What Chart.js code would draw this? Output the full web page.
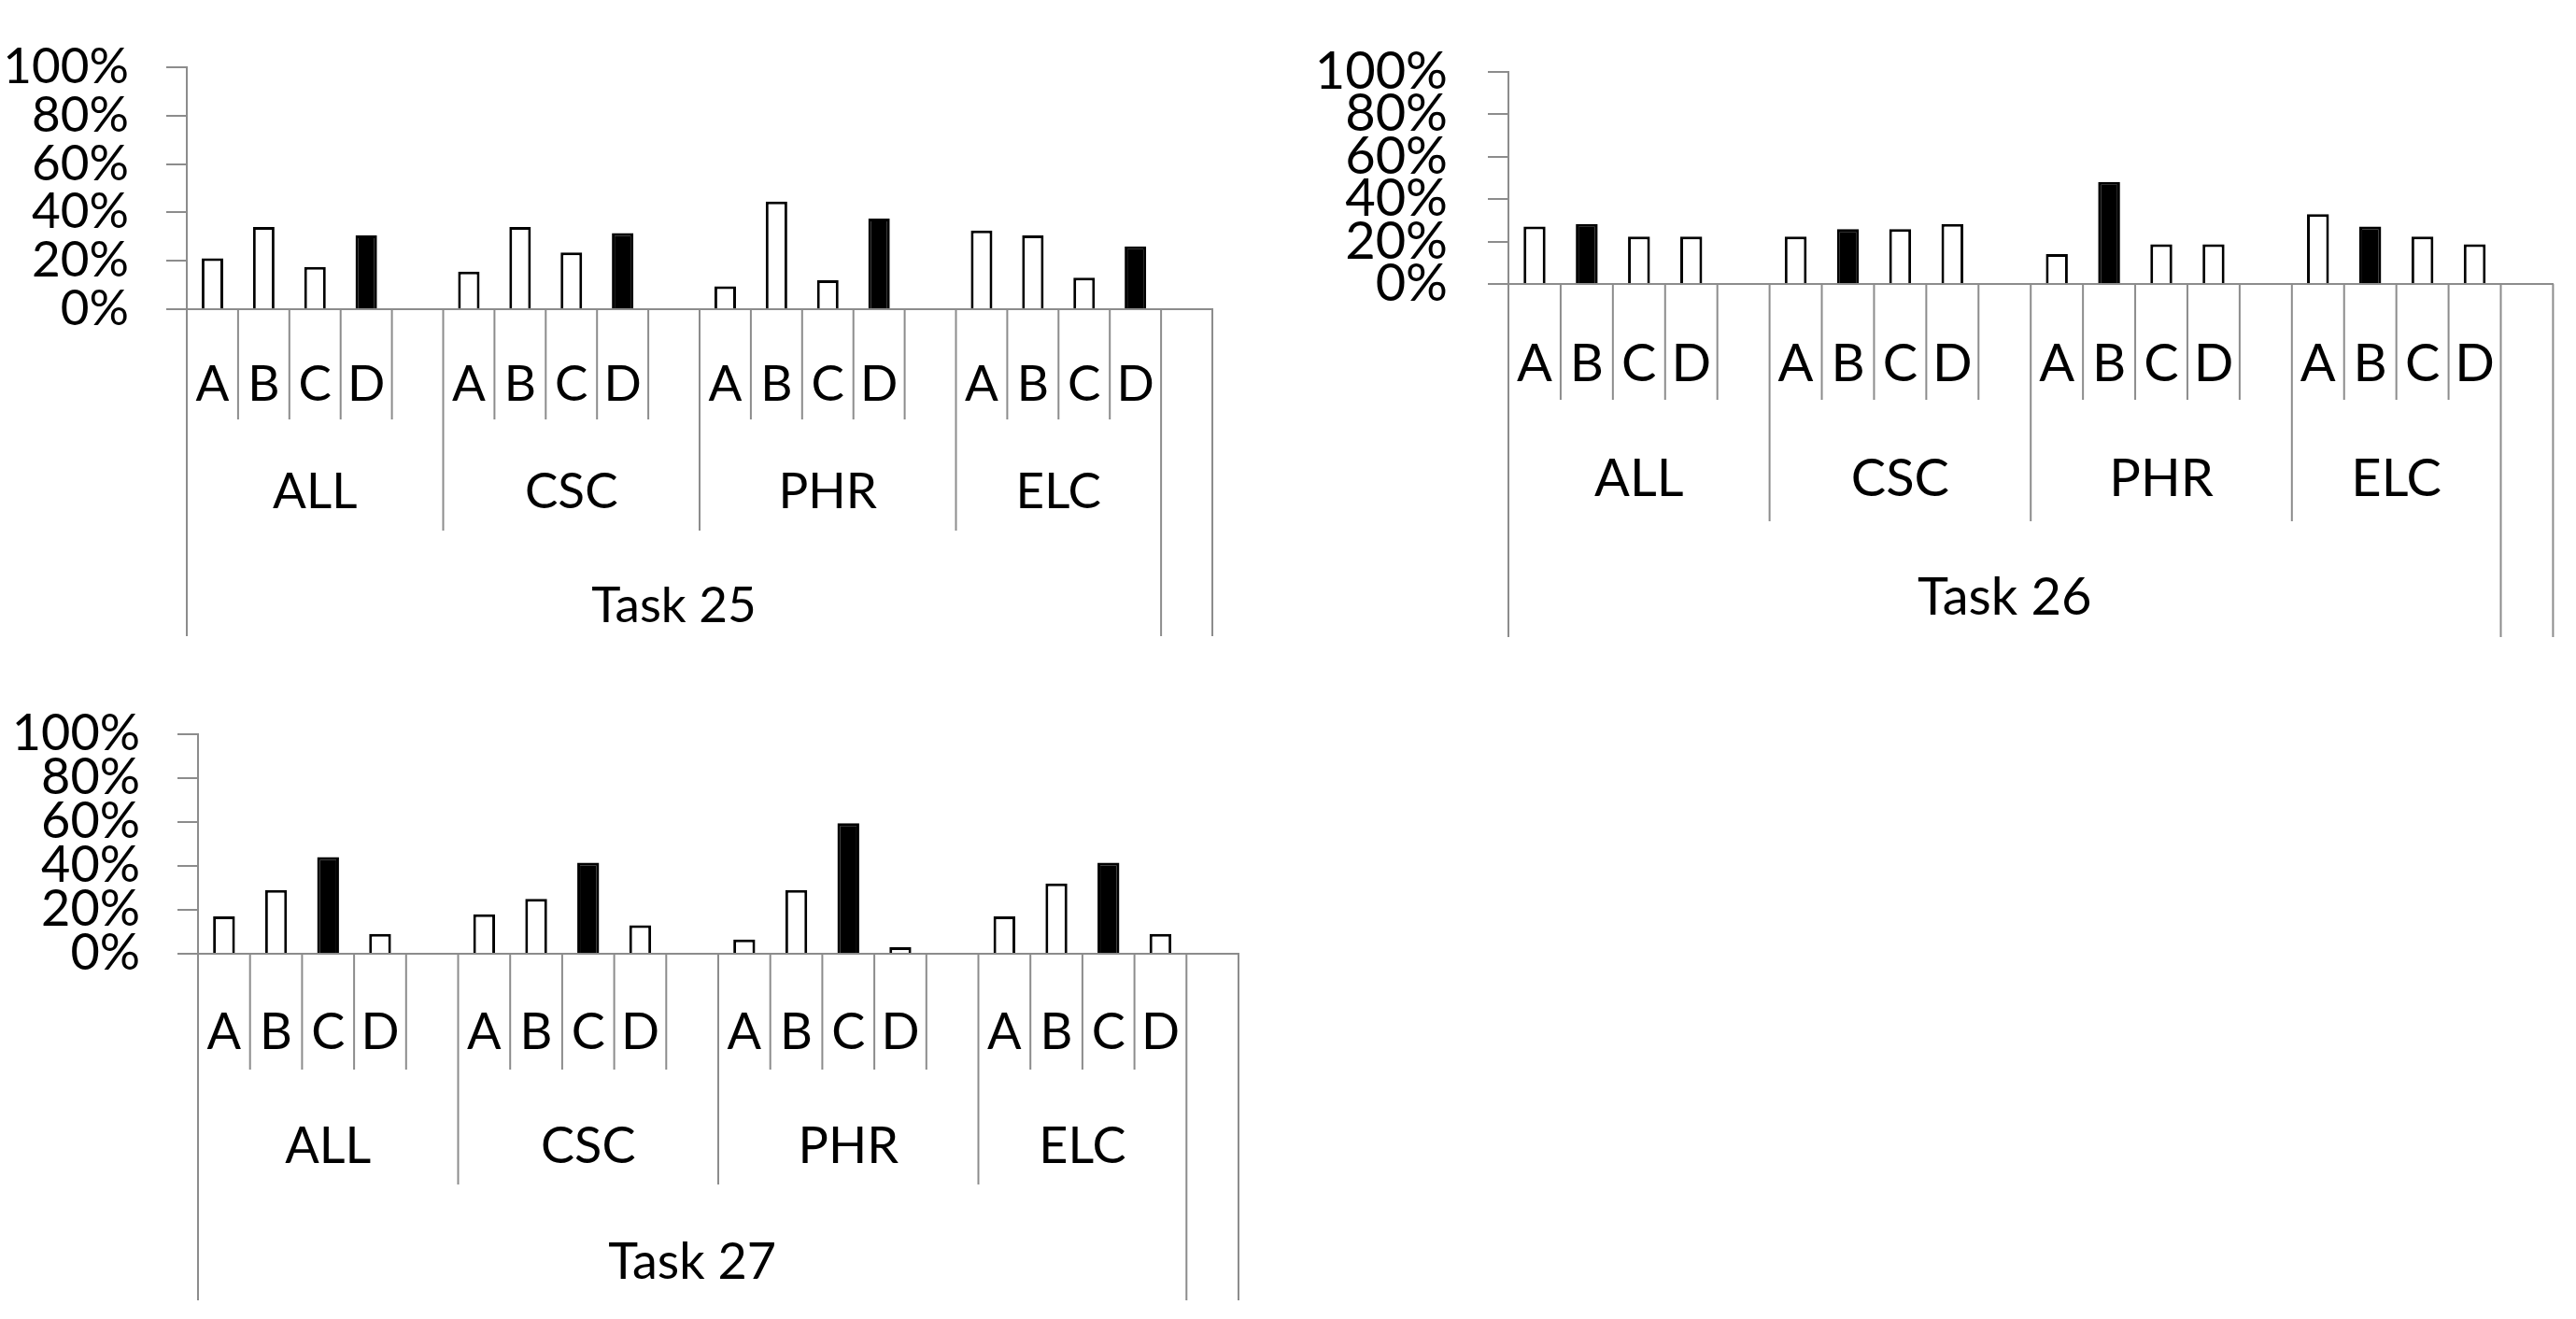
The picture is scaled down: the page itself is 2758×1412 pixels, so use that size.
<!DOCTYPE html>
<html>
<head>
<meta charset="utf-8">
<script src="https://cdn.jsdelivr.net/npm/chart.js@4.4.0/dist/chart.umd.min.js"></script>
<style>
  body { margin: 0; background: #fff; width: 2758px; height: 1412px; position: relative; overflow: hidden; }
  canvas { position: absolute; }
</style>
</head>
<body>
<canvas id="c25" width="1379" height="706" style="left:0;top:0"></canvas>
<canvas id="c26" width="1379" height="706" style="left:1379px;top:0"></canvas>
<canvas id="c27" width="1379" height="706" style="left:0;top:706px"></canvas>
<script>
// answer options and respondent groups
const answers = ['A', 'B', 'C', 'D'];
const groups = ['ALL', 'CSC', 'PHR', 'ELC'];
const yTicks = [0, 20, 40, 60, 80, 100];

// % of respondents per answer, group by group (ALL, CSC, PHR, ELC)
const task25 = [21, 34, 17.5, 30.5,  15.5, 34, 23.5, 31.5,  9.5, 44.5, 12, 37.5,  32.5, 30.5, 13, 26];
const task26 = [27, 28.3, 22.3, 22.3,  22.3, 25.8, 25.8, 28.3,  14.1, 48, 18.7, 18.7,  32.9, 27, 22.3, 18.7];
const task27 = [17, 29, 44, 9,  18, 25, 41.5, 13,  6.5, 29, 59.5, 3,  17, 32, 41.5, 9];

// the correct answer is drawn black
const correct25 = 'D';
const correct26 = 'B';
const correct27 = 'C';

const axisGrey = '#8c8c8c';
const fontFamily = 'Lato, "Open Sans", sans-serif';

// excel style layout: a blank slot after each group, one more at the end
const categories = [];
const groupEdges = [];
groups.forEach((g, k) => {
  groupEdges.push(categories.length);
  answers.forEach(a => categories.push(a));
  if (k < groups.length - 1) categories.push('');
});
const taskEnd = categories.length;
groupEdges.push(taskEnd);
categories.push('');

function buildData(values) {
  const out = [];
  groups.forEach((g, k) => {
    answers.forEach((a, j) => out.push(values[k * answers.length + j]));
    if (k < groups.length - 1) out.push(null);
  });
  out.push(null);
  return out;
}

const multiAxis = {
  id: 'multiAxis',
  afterDraw(chart, args, o) {
    const ctx = chart.ctx;
    const x = chart.scales.x;
    const y0 = x.top;
    const step = x.getPixelForValue(1) - x.getPixelForValue(0);
    const edge = i => x.getPixelForValue(0) - step / 2 + i * step;
    ctx.save();
    ctx.strokeStyle = axisGrey;
    ctx.lineWidth = 2;
    for (let i = 0; i <= categories.length; i++) {
      let len = o.tickLen;
      if (groupEdges.includes(i)) len = o.groupLen;
      if (i === 0 || i >= taskEnd) len = o.taskLen;
      ctx.beginPath();
      ctx.moveTo(edge(i), y0);
      ctx.lineTo(edge(i), y0 + len);
      ctx.stroke();
    }
    ctx.fillStyle = '#000';
    ctx.font = o.fontSize + 'px ' + fontFamily;
    ctx.textAlign = 'center';
    ctx.textBaseline = 'middle';
    groups.forEach((g, k) => {
      ctx.fillText(g, (edge(groupEdges[k]) + edge(groupEdges[k + 1])) / 2, y0 + o.groupY);
    });
    ctx.fillText(o.task, (edge(0) + edge(taskEnd)) / 2, y0 + o.taskY);
    ctx.restore();
  }
};

function makeChart(id, values, right, task, L) {
  const correctIdx = answers.indexOf(right);
  const colors = categories.map(c => answers.indexOf(c) === correctIdx ? '#000' : '#fff');
  const font = { family: fontFamily, size: L.fontSize };
  new Chart(document.getElementById(id), {
    type: 'bar',
    data: {
      labels: categories,
      datasets: [{
        data: buildData(values),
        backgroundColor: colors,
        borderColor: '#000',
        borderWidth: 3,
        barPercentage: 0.42,
        categoryPercentage: 1
      }]
    },
    plugins: [multiAxis],
    options: {
      responsive: false,
      animation: false,
      layout: { padding: { top: L.top, right: L.right, left: 0, bottom: 0 } },
      plugins: {
        legend: { display: false },
        tooltip: { enabled: false },
        multiAxis: { task: task, fontSize: L.fontSize, tickLen: L.tickLen, groupLen: L.groupLen,
                     taskLen: L.taskLen, groupY: L.groupY, taskY: L.taskY }
      },
      scales: {
        x: {
          z: 1,
          grid: { display: false, drawTicks: false },
          border: { display: true, color: axisGrey, width: 2 },
          ticks: { autoSkip: false, maxRotation: 0, color: '#000', font: font, padding: L.labelPad },
          afterFit: s => { s.height = L.xHeight; }
        },
        y: {
          min: 0,
          max: 100,
          afterBuildTicks: s => { s.ticks = yTicks.map(v => ({ value: v })); },
          grid: { drawOnChartArea: false, drawTicks: true, tickLength: 22, color: axisGrey, lineWidth: 2 },
          border: { display: true, color: axisGrey, width: 2 },
          ticks: { autoSkip: false, color: '#000', font: font, padding: L.yPad, callback: v => v + '%' },
          afterFit: s => { s.width = L.yWidth; }
        }
      }
    }
  });
}

makeChart('c25', task25, correct25, 'Task 25', {
  top: 72, right: 81, yWidth: 200, xHeight: 375, fontSize: 53, yPad: 40, labelPad: 49,
  tickLen: 118, groupLen: 237, taskLen: 350, groupY: 196, taskY: 318
});
makeChart('c26', task26, correct26, 'Task 26', {
  top: 45, right: 22, yWidth: 236, xHeight: 402, fontSize: 56, yPad: 43, labelPad: 52,
  tickLen: 124, groupLen: 254, taskLen: 378, groupY: 209, taskY: 336
});
makeChart('c27', task27, correct27, 'Task 27', {
  top: 80, right: 53, yWidth: 212, xHeight: 391, fontSize: 54, yPad: 40, labelPad: 52,
  tickLen: 124, groupLen: 247, taskLen: 371, groupY: 207, taskY: 331
});
</script>
</body>
</html>
